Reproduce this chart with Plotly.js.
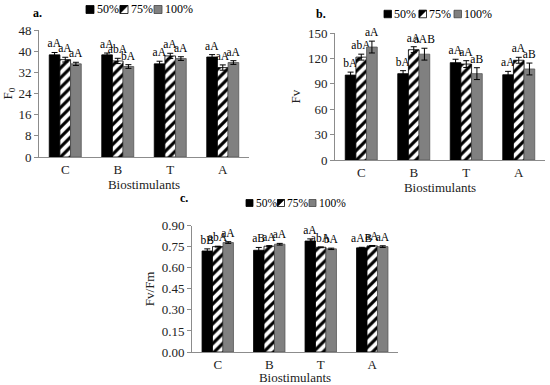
<!DOCTYPE html>
<html><head><meta charset="utf-8">
<script src="https://cdn.plot.ly/plotly-3.0.1.min.js"></script>
<style>html,body{margin:0;padding:0;background:#fff}#chart{width:550px;height:385px}</style>
</head><body><div id="chart"></div>
<script>
const categories = ['C','B','T','A'];
const doses = ['50%','75%','100%'];

// Panel a: F0
const f0_50 = [38.6, 38.6, 35.2, 37.8];
const f0_75 = [36.8, 36.3, 38.2, 33.8];
const f0_100 = [35.2, 34.2, 37.2, 35.7];
const f0_50_err = [0.9, 0.7, 1.0, 0.9];
const f0_75_err = [0.9, 1.0, 1.0, 1.0];
const f0_100_err = [0.6, 0.7, 0.7, 0.7];
const f0_50_lab = ['aA','aA','aA','aA'];
const f0_75_lab = ['aA','abA','aA','aA'];
const f0_100_lab = ['aA','bA','aA','aA'];

// Panel b: Fv
const fv_50 = [100.3, 102.0, 115.0, 100.7];
const fv_75 = [121.5, 130.3, 113.3, 117.8];
const fv_100 = [133.4, 125.0, 102.0, 107.5];
const fv_50_err = [3.5, 3.5, 4, 4];
const fv_75_err = [3.5, 3.5, 4, 3.5];
const fv_100_err = [7, 7, 7, 7];
const fv_50_lab = ['bA','bA','aA','aA'];
const fv_75_lab = ['abA','aA','aA','aA'];
const fv_100_lab = ['aA','aAB','aB','aB'];

// Panel c: Fv/Fm
const fvfm_50 = [0.720, 0.725, 0.791, 0.742];
const fvfm_75 = [0.751, 0.754, 0.746, 0.756];
const fvfm_100 = [0.780, 0.768, 0.735, 0.751];
const fvfm_50_err = [0.015, 0.02, 0.015, 0.004];
const fvfm_75_err = [0.003, 0.004, 0.003, 0.003];
const fvfm_100_err = [0.006, 0.006, 0.005, 0.006];
const fvfm_50_lab = ['bB','aB','aA','aAB'];
const fvfm_75_lab = ['abA','aA','abA','aA'];
const fvfm_100_lab = ['aA','aA','bA','aA'];

const SERIF = 'Liberation Serif';
const styles = [
  {color:'#000000', line:{color:'#000000', width:0.8}},
  {color:'#ffffff', line:{color:'#000000', width:0.8}, pattern:{shape:'/', fgcolor:'#000000', bgcolor:'#ffffff', size:7, solidity:0.45}},
  {color:'#808080', line:{color:'#555555', width:0.8}}
];

function bars(vals, errs, labs, i, xa, ya) {
  const main = {
    type:'bar', x:categories, y:vals, name:doses[i], offsetgroup:'g'+i,
    xaxis:xa, yaxis:ya, showlegend:false,
    marker:styles[i],
    error_y:{type:'data', array:errs, visible:true, color:'#000', thickness:1, width:3},
    hoverinfo:'x+y'
  };
  // transparent companion bar reaching the error-bar top, carrying the letter labels
  const lab = {
    type:'bar', x:categories, y:vals.map((v, k) => v + errs[k]), name:doses[i] + ' labels',
    offsetgroup:'g'+i, xaxis:xa, yaxis:ya, showlegend:false,
    marker:{color:'rgba(0,0,0,0)', line:{width:0}},
    text:labs, textposition:'outside', constraintext:'none', cliponaxis:false,
    textfont:{family:SERIF, size:11.5, color:'#000'}, hoverinfo:'skip'
  };
  return [main, lab];
}

const data = [].concat(
  bars(f0_50, f0_50_err, f0_50_lab, 0, 'x', 'y'),
  bars(f0_75, f0_75_err, f0_75_lab, 1, 'x', 'y'),
  bars(f0_100, f0_100_err, f0_100_lab, 2, 'x', 'y'),
  bars(fv_50, fv_50_err, fv_50_lab, 0, 'x2', 'y2'),
  bars(fv_75, fv_75_err, fv_75_lab, 1, 'x2', 'y2'),
  bars(fv_100, fv_100_err, fv_100_lab, 2, 'x2', 'y2'),
  bars(fvfm_50, fvfm_50_err, fvfm_50_lab, 0, 'x3', 'y3'),
  bars(fvfm_75, fvfm_75_err, fvfm_75_lab, 1, 'x3', 'y3'),
  bars(fvfm_100, fvfm_100_err, fvfm_100_lab, 2, 'x3', 'y3')
);

const W = 550, H = 385;
const px = v => v / W, py = v => 1 - v / H;

function xax(x0, x1, anchor) {
  return {domain:[px(x0), px(x1)], anchor:anchor, range:[-0.5, 3.5], showline:true,
    linecolor:'#8c8c8c', linewidth:1, ticks:'', showgrid:false, zeroline:false,
    tickfont:{family:SERIF, size:13, color:'#222'}, fixedrange:true,
    title:{text:'Biostimulants', font:{family:SERIF, size:13, color:'#222'}, standoff:2}};
}
function yax(y0, y1, anchor, range, dtick, fmt, title) {
  return {domain:[py(y1), py(y0)], anchor:anchor, range:range, dtick:dtick, tick0:0,
    tickformat:fmt, showline:true, linecolor:'#8c8c8c', linewidth:1, ticks:'outside',
    ticklen:4, tickcolor:'#8c8c8c', showgrid:false, zeroline:false,
    tickfont:{family:SERIF, size:13, color:'#222'}, fixedrange:true,
    title:{text:title, font:{family:SERIF, size:13, color:'#222'}, standoff:4}};
}

// Compact legends: swatch + text for each dose, built from the doses list
const shapes = [], annotations = [];
function legend(x0, step, yc, sq, fs) {
  doses.forEach((d, i) => {
    const xs = x0 + i * step;
    const r = {type:'rect', xref:'paper', yref:'paper',
      x0:px(xs), x1:px(xs + sq), y0:py(yc + sq/2), y1:py(yc - sq/2),
      line:{color:'#000', width:0.8}};
    if (i === 0) r.fillcolor = '#000';
    if (i === 1) r.fillcolor = '#fff';
    if (i === 2) { r.fillcolor = '#808080'; r.line.color = '#444'; }
    shapes.push(r);
    if (i === 1) {
      shapes.push({type:'path', xref:'paper', yref:'paper',
        path:'M' + px(xs) + ',' + py(yc + sq/2) + 'L' + px(xs + sq) + ',' + py(yc - sq/2) +
             'L' + px(xs) + ',' + py(yc - sq/2) + 'Z',
        fillcolor:'#000', line:{color:'#000', width:0.5}});
    }
    annotations.push({text:d, xref:'paper', yref:'paper', x:px(xs + sq + 0.5), y:py(yc),
      xanchor:'left', yanchor:'middle', showarrow:false,
      font:{family:SERIF, size:fs, color:'#000'}});
  });
}
legend(86, 34, 9.5, 8, 12);
legend(384, 35, 14, 7.5, 12);
legend(246, 31.5, 203, 7, 11.5);

annotations.push(
  {text:'<b>a.</b>', xref:'paper', yref:'paper', x:px(31), y:py(13), xanchor:'left', yanchor:'middle', showarrow:false, font:{family:SERIF, size:12, color:'#000'}},
  {text:'<b>b.</b>', xref:'paper', yref:'paper', x:px(314), y:py(14), xanchor:'left', yanchor:'middle', showarrow:false, font:{family:SERIF, size:12, color:'#000'}},
  {text:'<b>c.</b>', xref:'paper', yref:'paper', x:px(178), y:py(198), xanchor:'left', yanchor:'middle', showarrow:false, font:{family:SERIF, size:12, color:'#000'}}
);

const layout = {
  width:W, height:H, margin:{l:0, r:0, t:0, b:0},
  paper_bgcolor:'#fff', plot_bgcolor:'#fff',
  barmode:'group', bargap:0.39, bargroupgap:0,
  font:{family:SERIF, size:12, color:'#000'},
  showlegend:false,
  xaxis: xax(39, 249, 'y'),
  yaxis: yax(30, 157, 'x', [0, 48], 8, 'd', 'F<sub>0</sub>'),
  xaxis2: xax(335, 545, 'y2'),
  yaxis2: yax(33, 160, 'x2', [0, 150], 30, 'd', 'Fv'),
  xaxis3: xax(192, 398, 'y3'),
  yaxis3: yax(225.7, 352, 'x3', [0, 0.9], 0.15, '.2f', 'Fv/Fm'),
  shapes: shapes,
  annotations: annotations
};

Plotly.newPlot('chart', data, layout, {displayModeBar:false, staticPlot:true});
</script>
</body></html>
